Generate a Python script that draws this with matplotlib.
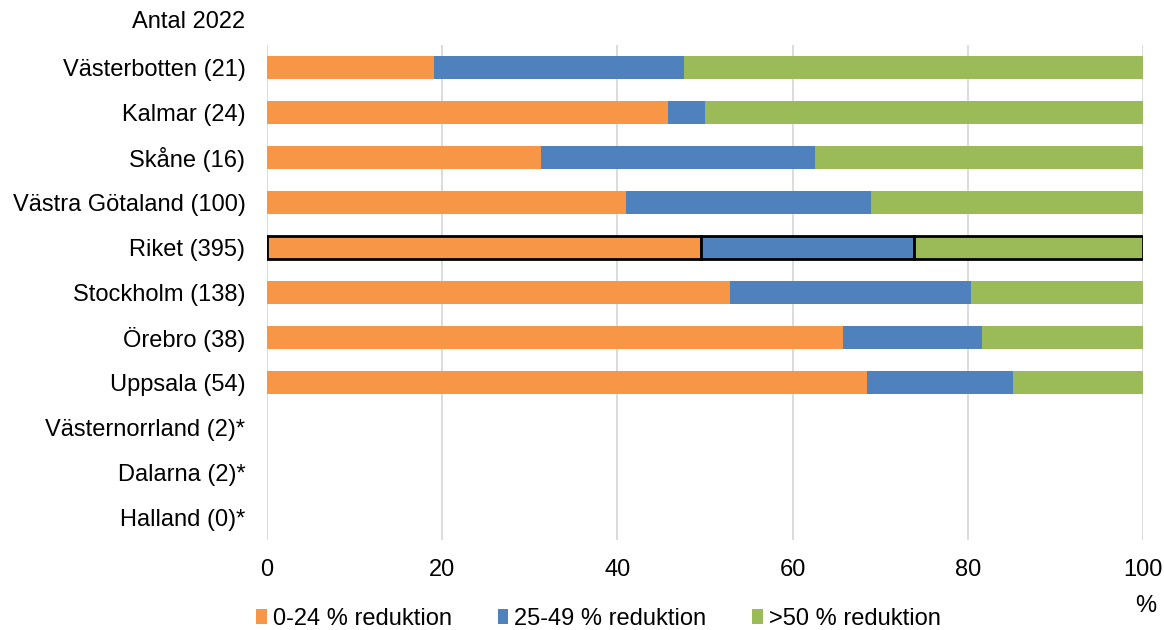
import matplotlib
matplotlib.use("Agg")
import matplotlib.pyplot as plt
import numpy as np

plt.rcParams['font.family'] = ['Liberation Sans', 'DejaVu Sans']

categories = ["Västerbotten (21)", "Kalmar (24)", "Skåne (16)", "Västra Götaland (100)",
              "Riket (395)", "Stockholm (138)", "Örebro (38)", "Uppsala (54)",
              "Västernorrland (2)*", "Dalarna (2)*", "Halland (0)*"]
low = [19.05, 45.83, 31.25, 41.0, 49.6, 52.9, 65.8, 68.5, 0, 0, 0]
mid = [28.57, 4.17, 31.25, 28.0, 24.3, 27.5, 15.8, 16.7, 0, 0, 0]
high = [52.38, 50.0, 37.5, 31.0, 26.1, 19.6, 18.4, 14.8, 0, 0, 0]
series_labels = ["0-24 % reduktion", "25-49 % reduktion", ">50 % reduktion"]
colors = ["#F79646", "#4F81BD", "#9BBB59"]
xticks = [0, 20, 40, 60, 80, 100]

FS = 17

fig = plt.figure(figsize=(11.64, 6.3), dpi=100)
ax = fig.add_axes([267/1164, 1-540/630, (1143-267)/1164, 495/630])

y = np.arange(len(categories))
left = np.zeros(len(categories))
handles = []
for vals, lab, col in zip([low, mid, high], series_labels, colors):
    vals = np.array(vals)
    edge = ['black' if c.startswith("Riket") else 'none' for c in categories]
    lw = [2.0 if c.startswith("Riket") else 0 for c in categories]
    bars = ax.barh(y, vals, left=left, height=0.53, color=col, edgecolor=edge,
                   linewidth=lw, label=lab, zorder=3)
    handles.append(bars)
    left += vals

ax.set_ylim(len(categories) - 0.5, -0.5)
ax.set_xlim(0, 100)
ax.set_yticks(y)
ax.set_yticklabels(categories, fontsize=FS)
ax.set_xticks(xticks)
ax.set_xticklabels([str(t) for t in xticks], fontsize=FS)
ax.tick_params(axis='y', length=0, pad=15.5)
ax.tick_params(axis='x', length=0, pad=13.5)
for s in ax.spines.values():
    s.set_visible(False)
ax.grid(axis='x', color='#D9D9D9', linewidth=1.3, zorder=0)

fig.text(245/1164, 1-22/630, "Antal 2022", ha='right', va='center', fontsize=FS)
fig.text(1146/1164, 1-606/630, "%", ha='center', va='center', fontsize=FS)

leg = fig.legend(handles, series_labels, loc='center left', bbox_to_anchor=(256/1164, 1-619/630),
                 ncol=3, frameon=False, fontsize=FS, handlelength=0.45, handleheight=0.6,
                 handletextpad=0.25, columnspacing=1.95, borderaxespad=0, borderpad=0)

fig.savefig("out.png", dpi=100)
